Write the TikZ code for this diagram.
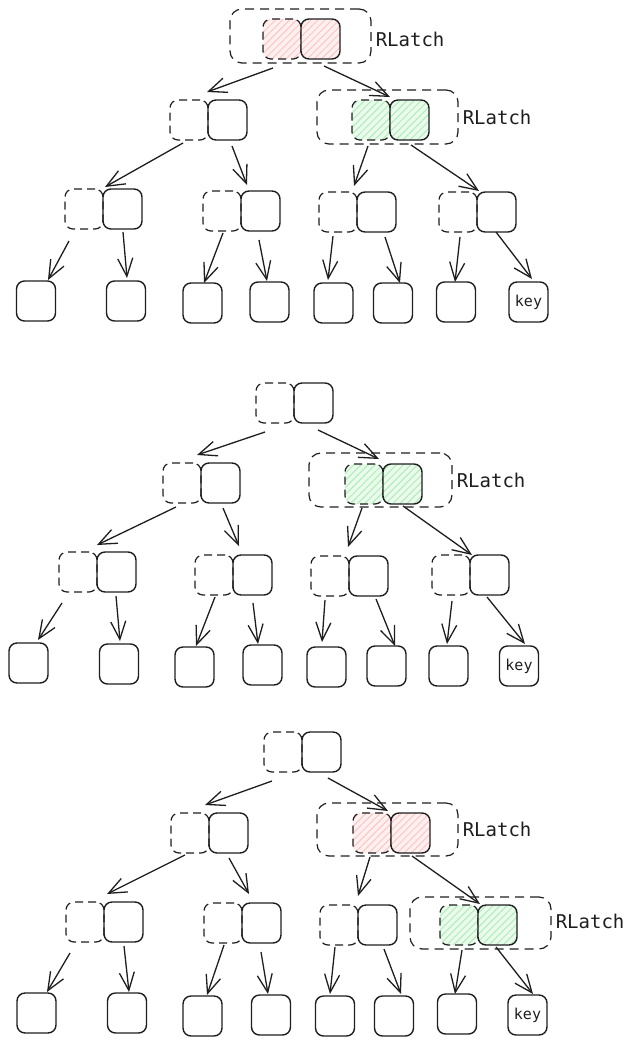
\documentclass[tikz,border=0pt]{standalone}
\usepackage{fontspec}
\newfontfamily\monof{DejaVu Sans Mono}
\usetikzlibrary{arrows.meta,patterns.meta}
\definecolor{ink}{HTML}{1E1E1E}
\definecolor{redfill}{HTML}{FFF0F0}
\definecolor{redline}{HTML}{FFC4C4}
\definecolor{grnfill}{HTML}{ECFAEE}
\definecolor{grnline}{HTML}{ABEFB5}
\tikzset{
 sbox/.style={draw=ink, line width=1.4pt, rounded corners=8pt, minimum width=39pt, minimum height=40pt, inner sep=0pt, outer sep=0pt},
 dbox/.style={sbox, minimum width=38pt, line width=1.2pt, dash pattern=on 8pt off 5pt},
 redh/.style={preaction={fill=redfill}, pattern={Lines[angle=45,distance=5pt,line width=1pt]}, pattern color=redline},
 grnh/.style={preaction={fill=grnfill}, pattern={Lines[angle=45,distance=5pt,line width=1pt]}, pattern color=grnline},
 grp/.style={draw=ink, line width=1.2pt, dash pattern=on 9pt off 6pt, rounded corners=12pt, inner sep=0pt, minimum width=141pt, minimum height=54pt},
 arr/.style={draw=ink, line width=1.3pt, -{Straight Barb[length=18pt,width=15pt,line width=1.3pt]}},
 lbl/.style={font=\monof\fontsize{19}{22}\selectfont, text=ink, inner sep=0pt, anchor=west},
 keyt/.style={font=\monof\fontsize{15}{17}\selectfont, text=ink},
}
\newcommand\pairbox[5]{%
 \node[dbox,anchor=north east,#4] (#1d) at (#2,#3) {};
 \node[sbox,anchor=north west,#5] (#1) at (#2,#3) {};}
\newcommand\leafbox[3]{\node[sbox,anchor=north] (#1) at (#2,#3) {};}
\newcommand\ar[4]{\draw[arr] ([shift={#2}]#1) -- ([shift={#4}]#3);}
\begin{document}
\begin{tikzpicture}[x=1pt,y=-1pt]
\useasboundingbox (0,0) rectangle (639,1045);
% ---------------- tree 1 ----------------
\node[grp] (g1r) at (300.5,36) {};
\node[grp] (g1b) at (387.5,117) {};
\node[lbl] (t1r) at ([xshift=4pt,yshift=-3pt]g1r.east) {RLatch};
\node[lbl] (t1b) at ([xshift=4pt]g1b.east) {RLatch};
\pairbox{r1}{301}{19}{redh}{redh}
\pairbox{a1}{208}{100}{}{}
\pairbox{b1}{390}{100}{grnh}{grnh}
\pairbox{c1}{103}{189}{}{}
\pairbox{d1}{241}{191}{}{}
\pairbox{e1}{357}{192}{}{}
\pairbox{f1}{477}{192}{}{}
\leafbox{l11}{36}{281}
\leafbox{l12}{126}{281}
\leafbox{l13}{202.5}{283}
\leafbox{l14}{269.5}{282}
\leafbox{l15}{333.5}{283}
\leafbox{l16}{393}{283}
\leafbox{l17}{456}{282}
\node[sbox,anchor=north,keyt] (l18) at (528.5,282) {key};
\ar{r1.south west}{(-28,9)}{a1.north west}{(-1,-8)}
\ar{r1.south west}{(23,7)}{b1.north west}{(0,-3)}
\ar{a1.south west}{(-25,3)}{c1.north west}{(2,-2)}
\ar{a1.south west}{(24,6)}{d1.north west}{(6,-6)}
\ar{b1.south west}{(-22,6)}{e1.north west}{(-3,-6)}
\ar{b1.south west}{(21,5)}{f1.north west}{(2,-1)}
\ar{c1.south west}{(-34,12)}{l11.north}{(12,-1)}
\ar{c1.south west}{(20,3)}{l12.north}{(1,-3)}
\ar{d1.south west}{(-18,2)}{l13.north}{(1.5,0)}
\ar{d1.south west}{(18,9)}{l14.north}{(-2.5,-1)}
\ar{e1.south west}{(-24,4)}{l15.north}{(-5.5,-3)}
\ar{e1.south west}{(28,5)}{l16.north}{(7,0)}
\ar{f1.south west}{(-17,5)}{l17.north}{(-1,0)}
\ar{f1.south west}{(19,0)}{l18.north}{(3.5,-3)}
% ---------------- tree 2 ----------------
\node[grp,minimum width=143pt] (g2b) at (380.5,480) {};
\node[lbl] (t2b) at ([xshift=4pt]g2b.east) {RLatch};
\pairbox{r2}{294}{383}{}{}
\pairbox{a2}{201}{463}{}{}
\pairbox{b2}{383}{464}{grnh}{grnh}
\pairbox{c2}{97}{552}{}{}
\pairbox{d2}{233}{555}{}{}
\pairbox{e2}{349}{556}{}{}
\pairbox{f2}{470}{555}{}{}
\leafbox{l21}{28.5}{643}
\leafbox{l22}{119}{644}
\leafbox{l23}{194.5}{647}
\leafbox{l24}{262.5}{645}
\leafbox{l25}{326.5}{647}
\leafbox{l26}{386.5}{646}
\leafbox{l27}{448.5}{646}
\node[sbox,anchor=north,keyt] (l28) at (519,646) {key};
\ar{r2.south west}{(-29,9)}{a2.north west}{(-4,-8)}
\ar{r2.south west}{(24,7)}{b2.north west}{(-4,-5)}
\ar{a2.south west}{(-25,4)}{c2.north west}{(0,-7)}
\ar{a2.south west}{(22,5)}{d2.north west}{(6,-9)}
\ar{b2.south west}{(-21,4)}{e2.north west}{(-1,-9)}
\ar{b2.south west}{(20,2)}{f2.north west}{(2,0)}
\ar{c2.south west}{(-35,11)}{l21.north}{(9.5,-3)}
\ar{c2.south west}{(19,4)}{l22.north}{(1,-3)}
\ar{d2.south west}{(-18,2)}{l23.north}{(1.5,-1)}
\ar{d2.south west}{(20,8)}{l24.north}{(-4.5,-1)}
\ar{e2.south west}{(-24,4)}{l25.north}{(-4.5,-5)}
\ar{e2.south west}{(27,3)}{l26.north}{(8.5,0)}
\ar{f2.south west}{(-18,6)}{l27.north}{(-1.5,-2)}
\ar{f2.south west}{(17,2)}{l28.north}{(6,-2)}
% ---------------- tree 3 ----------------
\node[grp,minimum height=53pt] (g3b) at (387.5,829.5) {};
\node[grp,minimum height=52pt] (g3f) at (480.5,923) {};
\node[lbl] (t3b) at ([xshift=4pt]g3b.east) {RLatch};
\node[lbl] (t3f) at ([xshift=4pt,yshift=2pt]g3f.east) {RLatch};
\pairbox{r3}{302}{732}{}{}
\pairbox{a3}{209}{813}{}{}
\pairbox{b3}{391}{813}{redh}{redh}
\pairbox{c3}{104}{902}{}{}
\pairbox{d3}{242}{903}{}{}
\pairbox{e3}{358}{905}{}{}
\pairbox{f3}{478}{905}{grnh}{grnh}
\leafbox{l31}{36.5}{993}
\leafbox{l32}{127}{993}
\leafbox{l33}{202.5}{996}
\leafbox{l34}{271}{995}
\leafbox{l35}{335}{996}
\leafbox{l36}{394}{996}
\leafbox{l37}{457}{994}
\node[sbox,anchor=north,keyt] (l38) at (527.5,995) {key};
\ar{r3.south west}{(-30,9)}{a3.north west}{(-4,-8)}
\ar{r3.south west}{(26,6)}{b3.north west}{(-3,-2)}
\ar{a3.south west}{(-24,2)}{c3.north west}{(3,-8)}
\ar{a3.south west}{(20,5)}{d3.north west}{(7,-9)}
\ar{b3.south west}{(-21,4)}{e3.north west}{(0,-9)}
\ar{b3.south west}{(21,3)}{f3.north west}{(2,-1)}
\ar{c3.south west}{(-34,11)}{l31.north}{(10.5,-1)}
\ar{c3.south west}{(20,4)}{l32.north}{(2,-1)}
\ar{d3.south west}{(-18,2)}{l33.north}{(4.5,-1)}
\ar{d3.south west}{(19,9)}{l34.north}{(-3,-1)}
\ar{e3.south west}{(-23,2)}{l35.north}{(-5,-2)}
\ar{e3.south west}{(26,4)}{l36.north}{(7,-2)}
\ar{f3.south west}{(-16,5)}{l37.north}{(-2,0)}
\ar{f3.south west}{(18,2)}{l38.north}{(5.5,-1)}
\end{tikzpicture}
\end{document}
